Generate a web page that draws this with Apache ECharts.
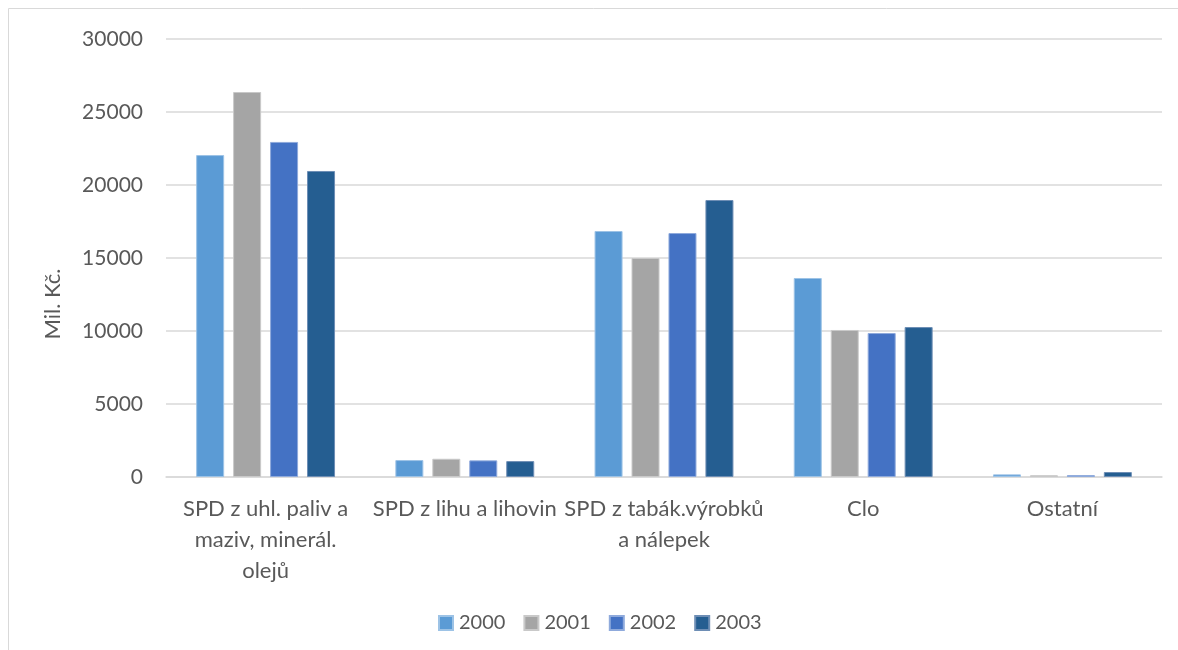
<!DOCTYPE html>
<html><head><meta charset="utf-8">
<script src="https://cdn.jsdelivr.net/npm/echarts@6/dist/echarts.min.js"></script>
<style>html,body{margin:0;padding:0;background:#fff}#c{width:1178px;height:650px}</style>
</head><body><div id="c"></div>
<script>
const categories = ["SPD z uhl. paliv a maziv, minerál. olejů", "SPD z lihu a lihovin", "SPD z tabák.výrobků a nálepek", "Clo", "Ostatní"];
const categoryLabels = ["SPD z uhl. paliv a\nmaziv, minerál.\nolejů", "SPD z lihu a lihovin", "SPD z tabák.výrobků\na nálepek", "Clo", "Ostatní"];
const years = ["2000", "2001", "2002", "2003"];
const v2000 = [22050, 1160, 16850, 13630, 180];
const v2001 = [26370, 1250, 15000, 10070, 120];
const v2002 = [22950, 1140, 16710, 9860, 130];
const v2003 = [20960, 1090, 18970, 10270, 340];
const yTicks = [0, 5000, 10000, 15000, 20000, 25000, 30000];

const colors = ["#5B9BD5", "#A5A5A5", "#4472C4", "#255E91"];
const borders = ["#9DC3E6", "#C9C9C9", "#8FAADC", "#6E8EB5"];
const values = [v2000, v2001, v2002, v2003];
const font = "Lato, 'Open Sans', sans-serif";
const chart = echarts.init(document.getElementById('c'));
chart.setOption({
  animation: false,
  textStyle: {fontFamily: font},
  graphic: [
    {type: 'rect', shape: {x: 8.5, y: 8.5, width: 1300, height: 800}, style: {fill: 'none', stroke: '#D9D9D9', lineWidth: 1}, silent: true},
    {type: 'text', x: 53, y: 304, rotation: Math.PI / 2, style: {text: 'Mil. Kč.', fill: '#595959', font: "22px " + font, textAlign: 'center', textVerticalAlign: 'middle'}}
  ],
  grid: {left: 166, right: 16, top: 39, bottom: 173},
  legend: {
    data: years, bottom: 12, left: 433, itemWidth: 14, itemHeight: 14, itemGap: 18,
    icon: 'rect', textStyle: {color: '#595959', fontSize: 20, fontFamily: font, padding: [0, 0, 0, 1]}
  },
  xAxis: {
    type: 'category', data: categories,
    axisLine: {lineStyle: {color: '#D9D9D9', width: 1.5}},
    axisTick: {show: false},
    axisLabel: {
      color: '#595959', fontSize: 22, lineHeight: 31, margin: 16, interval: 0,
      formatter: (v, i) => categoryLabels[i]
    }
  },
  yAxis: {
    type: 'value', min: yTicks[0], max: yTicks[yTicks.length - 1], interval: 5000,
    axisLine: {show: false}, axisTick: {show: false},
    splitLine: {lineStyle: {color: '#D9D9D9', width: 1.5}},
    axisLabel: {color: '#595959', fontSize: 21, margin: 23, formatter: v => String(v)}
  },
  series: years.map((y, i) => ({
    name: y, type: 'bar', data: values[i], barWidth: 28, barGap: '32%',
    itemStyle: {color: colors[i], borderColor: borders[i], borderWidth: 1}
  }))
});
</script></body></html>
